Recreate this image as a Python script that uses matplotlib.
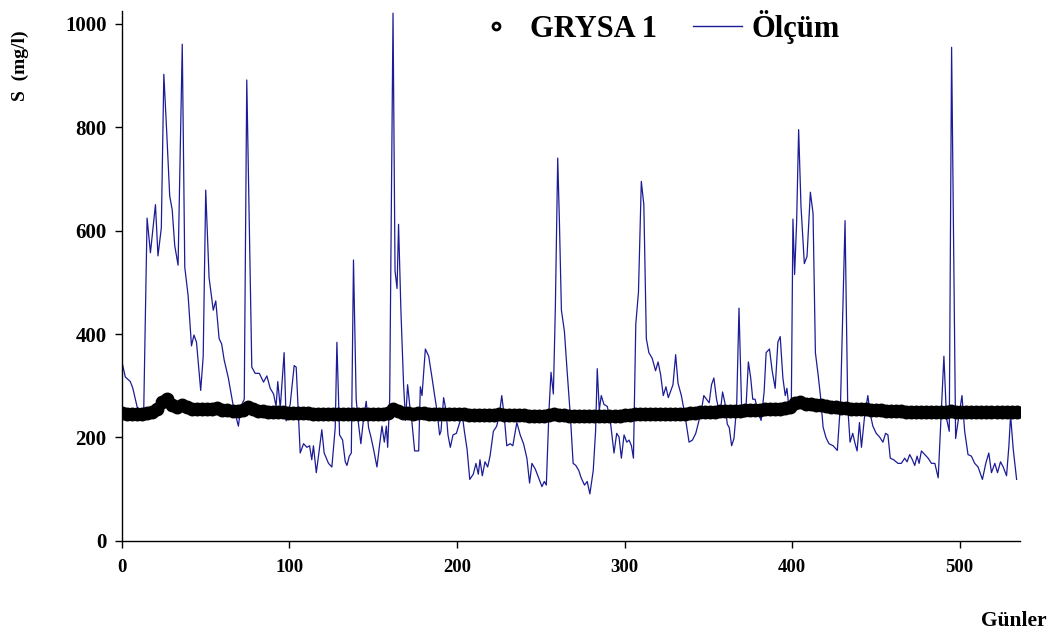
import numpy as np
import matplotlib
matplotlib.use("Agg")
import matplotlib.pyplot as plt
from matplotlib.lines import Line2D

plt.rcParams['font.family'] = ['Liberation Serif', 'DejaVu Serif']
plt.rcParams['font.weight'] = 'bold'

# measured S (mg/l) by day
olcum_gun = [
    0, 2, 5, 6.5, 9, 11, 13, 15, 17, 20, 21.5, 23.5, 25, 26.5, 28.5, 30, 31.5, 33.5, 36, 37.5,
    39.5, 41.5, 43, 44.5, 47, 48.5, 50, 52, 54.5, 56, 58, 59.5, 61, 63.5, 66.5, 69.5, 71, 73, 74.5, 77.5,
    79.5, 82, 84.5, 86.5, 88.5, 90.5, 92, 93, 94.5, 96.8, 98, 100.4, 102.8, 104, 106.4, 108.4, 110.4, 112, 113.3, 114.3,
    116, 117.3, 119.3, 120.7, 123.3, 125.3, 127.3, 128.3, 129.9, 131.7, 133.3, 134.3, 135.7, 136.9, 138.2, 139.8, 141.2, 142.6, 144.2, 145.8,
    147.2, 148.6, 150.2, 152.2, 153.6, 155.2, 156.6, 157.8, 158.6, 159.8, 161.8, 163, 164.2, 165.1, 166.5, 168.1, 169.3, 170.5, 171.7, 173.1,
    174.7, 177.1, 178.1, 179.1, 181.1, 183.1, 185.1, 186.5, 188, 189.6, 190.4, 192, 193.4, 194.6, 196, 197.6, 199.6, 201.6, 203, 204.4,
    206, 207.6, 209.7, 211.3, 212.7, 213.7, 215.1, 216.7, 218.3, 219.7, 221.7, 223.7, 225.3, 226.7, 228.1, 229.7, 231.7, 233.3, 235.7, 237.7,
    239.7, 241.7, 243.3, 244.7, 246.7, 248.7, 250.7, 252.1, 253.3, 254.9, 256.1, 257.5, 258.7, 260.1, 261.1, 262.3, 264.1, 265.7, 267.7, 269.3,
    270.9, 272.7, 274.1, 276.1, 277.7, 279.3, 281.3, 282.7, 283.7, 284.9, 286.1, 287.7, 289.7, 291.7, 293.7, 295.3, 296.7, 298.1, 299.7, 301.3,
    302.7, 304.1, 305.3, 306.7, 308.3, 310, 311.5, 313, 314.5, 316.5, 318.5, 320, 321.5, 323.1, 324.7, 326.1, 328.9, 330.5, 331.9, 333.9,
    335.9, 338.5, 340.5, 342.5, 343.9, 345.9, 347.3, 348.9, 350.5, 351.9, 353.3, 354.9, 356.9, 358.5, 359.9, 361.3, 362.5, 363.9, 365.3, 366.9,
    368.3, 369.9, 371.3, 372.5, 373.9, 375.3, 376.5, 377.9, 379.9, 381.5, 383.3, 384.5, 386.5, 388.1, 389.9, 391.5, 392.9, 394.5, 395.9, 396.9,
    398.5, 399.5, 400.5, 401.5, 402.7, 403.9, 405.3, 407.3, 408.9, 410.9, 412.5, 413.9, 415.5, 416.9, 418.5, 420.2, 422, 424.5, 427, 428.9,
    431.6, 433.2, 434.6, 436.2, 437.6, 438.8, 440.2, 441.4, 443.2, 445.2, 446.6, 448.2, 450.2, 452.2, 454.2, 455.8, 457.2, 458.6, 460.6, 463.2,
    465.2, 467.2, 468.6, 470.2, 471.8, 473.2, 474.6, 475.8, 477.2, 479.2, 481.2, 483.2, 485.2, 487.2, 488.6, 490.6, 492.2, 493.8, 495.2, 497.6,
    499.6, 501.4, 503, 505, 507, 509, 511, 513.6, 515.6, 517.4, 519, 521, 522.6, 524.4, 526, 528, 529.4, 530.4, 532, 534,
]
olcum_deger = [
    346, 317, 308, 295, 260, 248, 252, 624, 557, 650, 551, 605, 902, 805, 667, 640, 571, 533, 960, 529,
    474, 377, 398, 384, 291, 357, 678, 509, 446, 464, 391, 381, 350, 315, 260, 222, 260, 274, 891, 336,
    324, 324, 307, 319, 295, 284, 260, 308, 257, 364, 232, 264, 339, 336, 170, 188, 181, 184, 157, 184,
    132, 164, 215, 170, 150, 143, 219, 384, 205, 195, 153, 146, 164, 170, 543, 274, 226, 188, 236, 270,
    219, 201, 177, 143, 181, 222, 191, 222, 181, 274, 1020, 522, 488, 612, 446, 302, 233, 302, 264, 229,
    174, 174, 298, 281, 371, 357, 315, 284, 253, 205, 212, 277, 253, 205, 181, 205, 208, 229, 246, 212,
    177, 119, 129, 150, 129, 157, 126, 153, 143, 164, 212, 222, 246, 281, 243, 184, 188, 184, 229, 205,
    188, 160, 112, 150, 139, 122, 105, 115, 108, 253, 326, 284, 453, 740, 619, 446, 405, 329, 239, 150,
    146, 136, 122, 108, 115, 91, 136, 212, 333, 253, 281, 264, 260, 226, 170, 208, 201, 160, 205, 191,
    195, 184, 160, 419, 481, 695, 650, 391, 364, 353, 329, 346, 322, 281, 298, 277, 302, 360, 305, 281,
    246, 191, 195, 208, 226, 253, 281, 274, 267, 302, 315, 274, 243, 288, 267, 226, 219, 184, 198, 260,
    450, 253, 239, 260, 346, 315, 274, 274, 246, 233, 288, 364, 371, 329, 295, 384, 395, 315, 281, 295,
    246, 250, 622, 515, 616, 795, 647, 536, 550, 674, 633, 364, 322, 281, 220, 200, 188, 184, 175, 267,
    619, 260, 191, 208, 188, 174, 229, 181, 239, 281, 246, 222, 208, 201, 191, 208, 205, 160, 157, 150,
    150, 160, 153, 167, 157, 146, 164, 150, 174, 167, 160, 150, 150, 122, 219, 357, 236, 212, 954, 198,
    243, 281, 212, 167, 164, 150, 143, 119, 150, 170, 132, 150, 132, 153, 143, 126, 184, 243, 177, 119,
]

# GRYSA 1 model output, every third day
grysa_gun = np.arange(0, 535, 3)
grysa_deger = [
    248, 246, 245, 245, 246, 248, 250, 255, 268, 274,
    262, 258, 263, 258, 256, 256, 255, 256, 256, 257,
    254, 253, 252, 252, 254, 259, 255, 252, 251, 250,
    250, 249, 249, 248, 248, 247, 247, 247, 246, 246,
    246, 246, 246, 246, 246, 246, 246, 246, 246, 246,
    246, 246, 246, 248, 255, 251, 247, 247, 246, 247,
    247, 246, 246, 246, 246, 246, 245, 245, 245, 244,
    244, 244, 244, 244, 244, 245, 244, 243, 243, 243,
    243, 242, 242, 242, 242, 243, 245, 244, 243, 242,
    242, 242, 242, 242, 242, 242, 242, 242, 242, 242,
    243, 244, 245, 245, 245, 245, 245, 245, 245, 245,
    245, 245, 246, 247, 248, 249, 250, 250, 250, 251,
    251, 251, 252, 252, 253, 253, 254, 254, 255, 255,
    255, 256, 257, 258, 266, 268, 265, 264, 263, 262,
    260, 259, 258, 257, 257, 256, 256, 255, 255, 254,
    253, 253, 252, 252, 251, 251, 250, 250, 250, 250,
    249, 249, 249, 250, 250, 251, 250, 250, 250, 249,
    249, 249, 249, 249, 249, 249, 249, 250, 250,
]

fig = plt.figure(figsize=(10.54, 6.39), dpi=100)
ax = fig.add_axes([0.1157, 0.1534, 0.852, 0.830])

blue = '#1c1c96'
ax.plot(olcum_gun, olcum_deger, color=blue, lw=0.9, zorder=2)
# markers overlap so closely they merge into one thick band
ax.plot(grysa_gun, grysa_deger, ls='none', marker='o', ms=9, mew=1,
        mfc='black', mec='black', zorder=3)

ax.set_xlim(0, 536)
ax.set_ylim(0, 1025)
ax.set_xticks(np.arange(0, 501, 100))
ax.set_yticks(np.arange(0, 1001, 200))
for s in ['top', 'right']:
    ax.spines[s].set_visible(False)
for s in ['left', 'bottom']:
    ax.spines[s].set_linewidth(1.0)
ax.tick_params(direction='out', length=5, width=1)
ax.tick_params(axis='y', labelsize=15, pad=6)
ax.tick_params(axis='x', labelsize=13.5, pad=8)
for lab in ax.get_xticklabels() + ax.get_yticklabels():
    lab.set_fontweight('bold')

fig.text(20 / 1054, 1 - 66 / 639, 'S  (mg/l)', rotation=90, fontsize=14,
         fontweight='bold', ha='center', va='center')
fig.text(1047 / 1054, 1 - 621 / 639, 'Günler', fontsize=15.5,
         fontweight='bold', ha='right', va='center')

handles = [
    Line2D([], [], ls='none', marker='o', ms=5, mew=2, mfc='white', mec='black'),
    Line2D([], [], color=blue, lw=1),
]
fig.legend(handles, ['GRYSA 1', 'Ölçüm'], loc='center', ncol=2,
           bbox_to_anchor=(0.622, 0.958), frameon=False,
           prop={'size': 22, 'weight': 'bold'},
           handlelength=1.6, handletextpad=0.3, columnspacing=1.2,
           borderpad=0, borderaxespad=0)

fig.savefig('out.png', dpi=100)
